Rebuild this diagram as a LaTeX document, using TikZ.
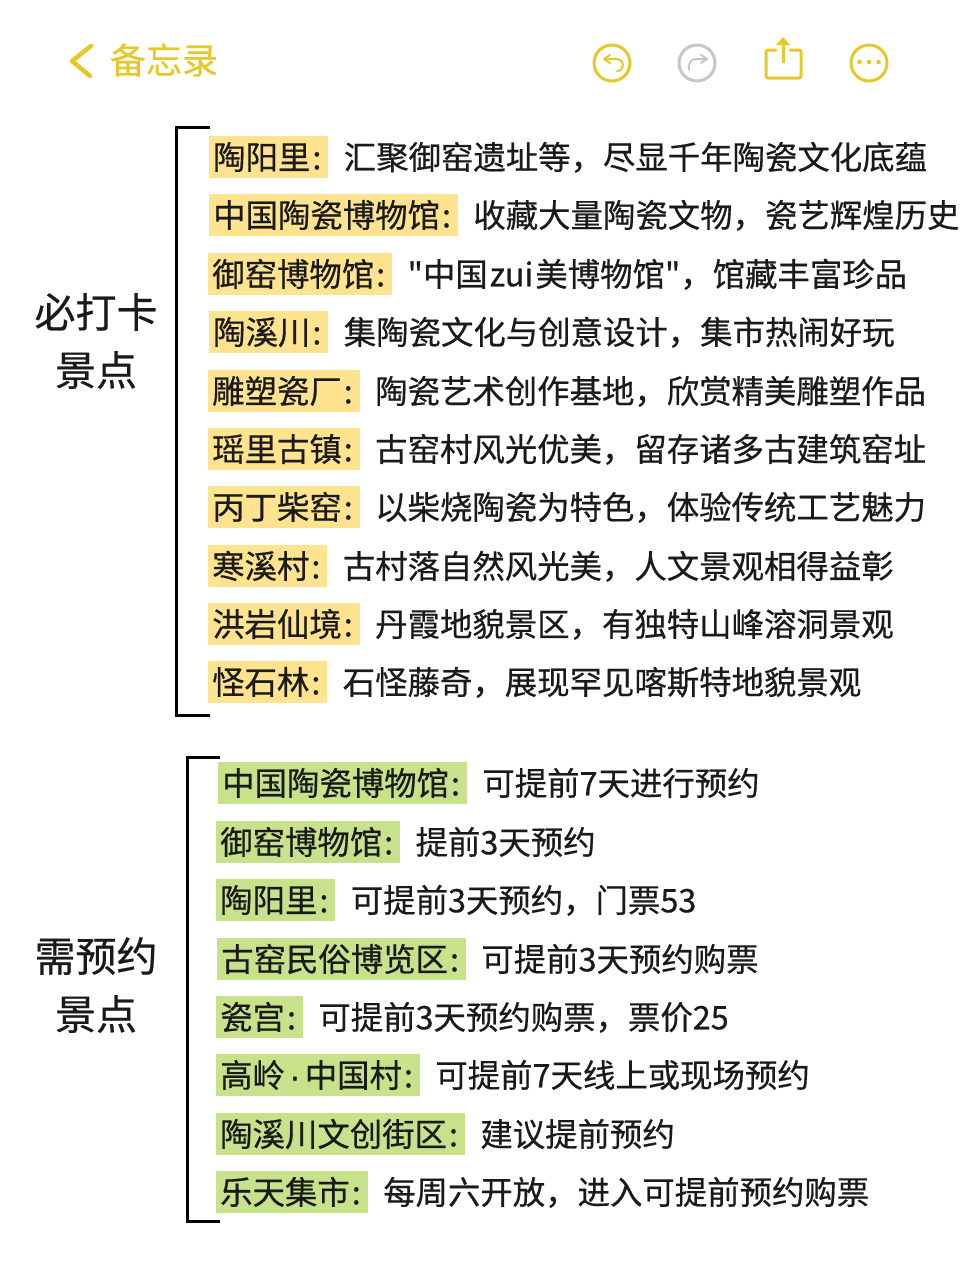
\documentclass[tikz,border=0pt]{standalone}
\usepackage{fontspec}
\usepackage{xcolor}
\usetikzlibrary{positioning}
\setmainfont{Noto Sans CJK SC}[FakeBold = 0.5]
\newfontfamily\notefont{Noto Sans CJK SC}[FakeBold = 0.5]
\newfontfamily\dotfont{Liberation Sans}[FakeBold = 1.5]
\definecolor{NoteYellow}{HTML}{E5C82A}
\definecolor{NoteGray}{HTML}{C6C6C6}
\definecolor{MarkYellow}{HTML}{FFE38E}
\definecolor{MarkGreen}{HTML}{C8E28C}
\definecolor{InkBlack}{HTML}{1A1A1A}
\newcommand{\keycolon}{\kern2pt:\kern3pt}
\newcommand{\keydot}{\kern4.5pt{\dotfont ·}\kern4.5pt}
\tikzset{
	rowtext/.style = {
		inner xsep   = 0pt,
		inner ysep   = 0pt,
		text height  = 33.3pt,
		text depth   = 8.7pt,
		text         = InkBlack,
		font         = \notefont\fontsize{32.4}{36}\selectfont,
	},
	yellowkey/.style = {
		rowtext,
		anchor       = west,
		inner xsep   = 4pt,
		fill         = MarkYellow,
	},
	greenkey/.style = {
		rowtext,
		anchor       = west,
		inner xsep   = 4pt,
		fill         = MarkGreen,
	},
	desctext/.style = {
		rowtext,
		right        = 15pt of #1,
	},
	sidetitle/.style = {
		inner sep    = 0pt,
		text         = InkBlack,
		font         = \fontsize{41}{45}\selectfont,
	},
	bracketline/.style = {
		line width   = 3pt,
		draw         = black,
	},
	iconline/.style = {
		line width   = 3pt,
		line cap     = round,
		line join    = round,
	},
	iconring/.style = {
		shape        = circle,
		inner sep    = 0pt,
		minimum size = 36pt,
		line width   = 3pt,
	},
}

\begin{document}
\begin{tikzpicture}[x = 1pt, y = -1pt]
	\useasboundingbox (0, 0) rectangle (960, 1280);

	% header
	\coordinate (backtop) at (91, 46);
	\coordinate (backtip) at (72, 61);
	\coordinate (backend) at (90, 76);
	\draw[NoteYellow, line width = 4.5pt, line join = round, line cap = round] (backtop) -- (backtip) -- (backend);
	\node (heading) at (164, 60) [inner sep = 0pt, text = NoteYellow, font = \fontsize{36}{40}\selectfont] {备忘录};

	\node (undoring) at (612, 63) [iconring, draw = NoteYellow] {};
	\draw[NoteYellow, iconline, line width = 2pt] (610, 55) -- (604, 59) -- (610, 63);
	\draw[NoteYellow, iconline, line width = 2pt] (604, 59) -- (616, 59) .. controls (625, 59) and (625, 71) .. (617, 71);

	\node (redoring) at (697, 63) [iconring, draw = NoteGray] {};
	\draw[NoteGray, iconline, line width = 2pt] (701, 55) -- (707, 59) -- (701, 63);
	\draw[NoteGray, iconline, line width = 2pt] (707, 59) -- (697, 59) .. controls (690, 59) and (688, 64) .. (689, 70);

	\draw[NoteYellow, iconline, rounded corners = 2pt] (776, 50) -- (766, 50) -- (766, 78) -- (801, 78) -- (801, 50) -- (790, 50);
	\draw[NoteYellow, line width = 3pt] (783, 63) -- (783, 42);
	\fill[NoteYellow] (783, 37) -- (790, 45) -- (776, 45) -- cycle;

	\node (morering) at (869, 63) [iconring, draw = NoteYellow] {};
	\fill[NoteYellow] (859.5, 62) circle (2.3pt) (869, 62) circle (2.3pt) (878.5, 62) circle (2.3pt);

	% first group
	\node (mustline) at (96, 312) [sidetitle] {必打卡};
	\node (mustsub)  at (96, 370) [sidetitle] {景点};

	\coordinate (musttop)    at (210, 127);
	\coordinate (mustcorner) at (176, 127);
	\coordinate (mustlow)    at (176, 715);
	\coordinate (mustend)    at (210, 715);
	\draw[bracketline] (musttop) -- (mustcorner) -- (mustlow) -- (mustend);

	\node (taoyang)   at (209, 157) [yellowkey] {陶阳里\keycolon};
	\node (taoyangd)  [desctext = taoyang] {汇聚御窑遗址等，尽显千年陶瓷文化底蕴};
	\node (museum)    at (209, 215) [yellowkey] {中国陶瓷博物馆\keycolon};
	\node (museumd)   [desctext = museum] {收藏大量陶瓷文物，瓷艺辉煌历史};
	\node (kiln)      at (208, 274) [yellowkey] {御窑博物馆\keycolon};
	\node (kilnd)     [desctext = kiln] {"中国\kern2pt zui\kern2pt 美博物馆"，馆藏丰富珍品};
	\node (taoxi)     at (209, 332) [yellowkey] {陶溪川\keycolon};
	\node (taoxid)    [desctext = taoxi] {集陶瓷文化与创意设计，集市热闹好玩};
	\node (sculpt)    at (208, 391) [yellowkey] {雕塑瓷厂\keycolon};
	\node (sculptd)   [desctext = sculpt] {陶瓷艺术创作基地，欣赏精美雕塑作品};
	\node (yaoli)     at (208, 449) [yellowkey] {瑶里古镇\keycolon};
	\node (yaolid)    [desctext = yaoli] {古窑村风光优美，留存诸多古建筑窑址};
	\node (bingding)  at (208, 507) [yellowkey] {丙丁柴窑\keycolon};
	\node (bingdingd) [desctext = bingding] {以柴烧陶瓷为特色，体验传统工艺魅力};
	\node (hanxi)     at (208, 566) [yellowkey] {寒溪村\keycolon};
	\node (hanxid)    [desctext = hanxi] {古村落自然风光美，人文景观相得益彰};
	\node (hongyan)   at (208, 624) [yellowkey] {洪岩仙境\keycolon};
	\node (hongyand)  [desctext = hongyan] {丹霞地貌景区，有独特山峰溶洞景观};
	\node (stone)     at (208, 682) [yellowkey] {怪石林\keycolon};
	\node (stoned)    [desctext = stone] {石怪藤奇，展现罕见喀斯特地貌景观};

	% second group
	\node (bookline) at (96, 956)  [sidetitle] {需预约};
	\node (booksub)  at (96, 1014) [sidetitle] {景点};

	\coordinate (booktop)    at (220, 757);
	\coordinate (bookcorner) at (187, 757);
	\coordinate (booklow)    at (187, 1221);
	\coordinate (bookend)    at (220, 1221);
	\draw[bracketline] (booktop) -- (bookcorner) -- (booklow) -- (bookend);

	\node (bmuseum)  at (218, 783)  [greenkey] {中国陶瓷博物馆\keycolon};
	\node (bmuseumd) [desctext = bmuseum] {可提前7天进行预约};
	\node (bkiln)    at (216, 842)  [greenkey] {御窑博物馆\keycolon};
	\node (bkilnd)   [desctext = bkiln] {提前3天预约};
	\node (btaoyang) at (216, 900)  [greenkey] {陶阳里\keycolon};
	\node (btaoyangd) [desctext = btaoyang] {可提前3天预约，门票53};
	\node (bfolk)    at (217, 959)  [greenkey] {古窑民俗博览区\keycolon};
	\node (bfolkd)   [desctext = bfolk] {可提前3天预约购票};
	\node (bpalace)  at (216, 1017) [greenkey] {瓷宫\keycolon};
	\node (bpalaced) [desctext = bpalace] {可提前3天预约购票，票价25};
	\node (bgaoling) at (216, 1075) [greenkey] {高岭\keydot 中国村\keycolon};
	\node (bgaolingd) [desctext = bgaoling] {可提前7天线上或现场预约};
	\node (bstreet)  at (216, 1134) [greenkey] {陶溪川文创街区\keycolon};
	\node (bstreetd) [desctext = bstreet] {建议提前预约};
	\node (bmarket)  at (216, 1192) [greenkey] {乐天集市\keycolon};
	\node (bmarketd) [desctext = bmarket] {每周六开放，进入可提前预约购票};
\end{tikzpicture}
\end{document}
